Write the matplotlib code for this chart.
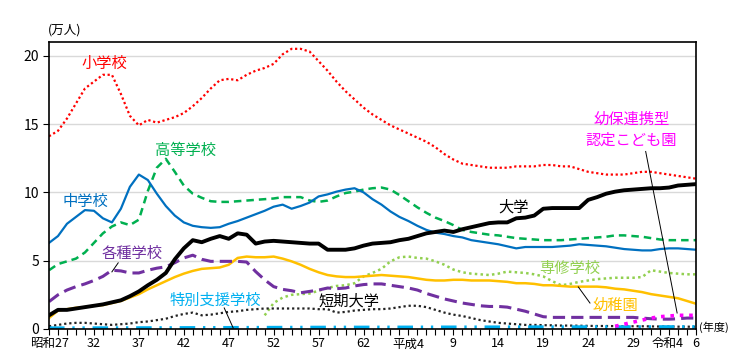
import matplotlib
matplotlib.use("Agg")
import matplotlib.pyplot as plt
from matplotlib.transforms import ScaledTranslation

plt.rcParams["font.family"] = ["Noto Sans CJK JP", "DejaVu Sans"]

# 年度 (1952 = 昭和27 ... 2024 = 令和6)
YEARS = list(range(1952, 2025))

elementary = [14.1, 14.5, 15.4, 16.5, 17.6, 18.1, 18.6, 18.6, 17.2, 15.6,
              14.9, 15.3, 15.1, 15.3, 15.5, 15.8, 16.3, 16.9, 17.6, 18.2,
              18.3, 18.2, 18.6, 18.9, 19.1, 19.4, 20.1, 20.5, 20.5, 20.3,
              19.6, 18.9, 18.1, 17.4, 16.8, 16.2, 15.7, 15.3, 14.9, 14.6,
              14.3, 14.0, 13.7, 13.3, 12.8, 12.4, 12.1, 12.0, 11.9, 11.8,
              11.8, 11.8, 11.9, 11.9, 11.9, 12.0, 12.0, 11.9, 11.9, 11.7,
              11.5, 11.4, 11.3, 11.3, 11.3, 11.4, 11.5, 11.5, 11.4, 11.3,
              11.2, 11.1, 11.0]
junior_high = [6.3, 6.8, 7.7, 8.2, 8.7, 8.65, 8.1, 7.8, 8.8, 10.4,
               11.3, 10.9, 9.9, 9.0, 8.3, 7.8, 7.55, 7.45, 7.4, 7.45,
               7.7, 7.9, 8.15, 8.4, 8.65, 8.95, 9.1, 8.8, 9.0, 9.25,
               9.7, 9.85, 10.05, 10.2, 10.3, 10.0, 9.5, 9.1, 8.6, 8.2,
               7.9, 7.55, 7.25, 7.05, 6.95, 6.8, 6.7, 6.5, 6.4, 6.3,
               6.2, 6.05, 5.9, 6.0, 6.0, 6.0, 6.0, 6.05, 6.1, 6.2,
               6.15, 6.1, 6.05, 5.95, 5.85, 5.8, 5.75, 5.75, 5.85, 5.9,
               5.9, 5.85, 5.8]
high_school = [4.3, 4.75, 4.95, 5.15, 5.6, 6.3, 7.0, 7.5, 7.8, 7.6,
               8.0, 10.1, 11.8, 12.45, 11.5, 10.5, 9.9, 9.6, 9.35, 9.3,
               9.3, 9.35, 9.4, 9.45, 9.5, 9.55, 9.65, 9.65, 9.65, 9.4,
               9.3, 9.4, 9.7, 9.95, 10.05, 10.2, 10.3, 10.35, 10.2, 9.8,
               9.35, 8.9, 8.5, 8.15, 7.9, 7.6, 7.25, 7.1, 7.0, 6.9,
               6.85, 6.75, 6.65, 6.6, 6.55, 6.5, 6.5, 6.5, 6.55, 6.6,
               6.65, 6.7, 6.75, 6.85, 6.85, 6.8, 6.75, 6.65, 6.55, 6.5,
               6.5, 6.5, 6.5]
university = [1.0, 1.4, 1.4, 1.5, 1.6, 1.7, 1.8, 1.95, 2.1, 2.4,
              2.75, 3.2, 3.6, 4.1, 5.1, 5.9, 6.5, 6.35, 6.6, 6.8,
              6.6, 7.0, 6.9, 6.25, 6.4, 6.45, 6.4, 6.35, 6.3, 6.25,
              6.25, 5.8, 5.8, 5.8, 5.9, 6.1, 6.25, 6.3, 6.35, 6.5,
              6.6, 6.8, 7.0, 7.1, 7.2, 7.1, 7.3, 7.45, 7.6, 7.75,
              7.8, 7.8, 8.1, 8.15, 8.3, 8.8, 8.85, 8.85, 8.85, 8.85,
              9.45, 9.65, 9.9, 10.05, 10.15, 10.2, 10.25, 10.3, 10.3, 10.35,
              10.5, 10.55, 10.6]
kindergarten = [0.8, 1.35, 1.45, 1.55, 1.6, 1.7, 1.75, 1.9, 2.05, 2.3,
                2.55, 2.9, 3.2, 3.5, 3.8, 4.05, 4.25, 4.4, 4.45, 4.5,
                4.7, 5.2, 5.3, 5.25, 5.25, 5.3, 5.15, 4.95, 4.7, 4.4,
                4.15, 3.95, 3.85, 3.8, 3.8, 3.85, 3.9, 3.95, 3.9, 3.85,
                3.8, 3.7, 3.6, 3.55, 3.55, 3.6, 3.6, 3.55, 3.55, 3.55,
                3.5, 3.45, 3.35, 3.35, 3.3, 3.2, 3.2, 3.15, 3.1, 3.1,
                3.1, 3.1, 3.05, 2.95, 2.9, 2.8, 2.7, 2.55, 2.45, 2.35,
                2.25, 2.05, 1.85]
misc_school = [2.0, 2.5, 2.85, 3.1, 3.3, 3.55, 3.85, 4.3, 4.25, 4.1,
               4.1, 4.3, 4.45, 4.55, 4.85, 5.2, 5.4, 5.1, 4.95, 4.95,
               4.95, 4.95, 4.9, 4.2, 3.6, 3.1, 2.9, 2.8, 2.65, 2.75,
               2.85, 3.0, 2.95, 3.0, 3.15, 3.25, 3.3, 3.3, 3.2, 3.1,
               3.0, 2.85, 2.6, 2.4, 2.2, 2.05, 1.9, 1.8, 1.7, 1.65,
               1.65, 1.6, 1.45, 1.3, 1.1, 0.9, 0.85, 0.85, 0.85, 0.85,
               0.85, 0.85, 0.85, 0.85, 0.85, 0.85, 0.8, 0.75, 0.72, 0.72,
               0.75, 0.8, 0.8]
junior_college = [0.2, 0.3, 0.4, 0.45, 0.45, 0.4, 0.35, 0.3, 0.35, 0.4,
                  0.5, 0.55, 0.65, 0.75, 0.95, 1.1, 1.2, 1.0, 1.05, 1.15,
                  1.25, 1.3, 1.4, 1.45, 1.5, 1.5, 1.5, 1.5, 1.5, 1.5,
                  1.45, 1.45, 1.2, 1.25, 1.35, 1.4, 1.45, 1.45, 1.5, 1.6,
                  1.7, 1.7, 1.6, 1.4, 1.2, 1.05, 0.95, 0.8, 0.65, 0.55,
                  0.45, 0.4, 0.35, 0.3, 0.3, 0.28, 0.27, 0.25, 0.25, 0.24,
                  0.23, 0.22, 0.22, 0.21, 0.2, 0.2, 0.2, 0.19, 0.18, 0.18,
                  0.17, 0.17, 0.16]

# 専修学校 (昭和51年度から)
SENSHU_YEARS = list(range(1976, 2025))
senshu = [1.0, 1.9, 2.3, 2.5, 2.55, 2.6, 2.8, 3.0, 3.15, 3.2,
          3.35, 3.85, 4.1, 4.4, 4.95, 5.25, 5.3, 5.2, 5.15, 4.95,
          4.7, 4.35, 4.15, 4.05, 4.0, 3.95, 4.05, 4.2, 4.15, 4.1,
          4.0, 3.85, 3.5, 3.2, 3.3, 3.45, 3.55, 3.65, 3.7, 3.75,
          3.75, 3.75, 3.8, 4.3, 4.2, 4.1, 4.05, 4.0, 4.0]

# 特別支援学校
SPECIAL_YEARS = [1952, 1962, 1972, 1982, 1992, 2002, 2012, 2024]
special = [0.05, 0.06, 0.08, 0.1, 0.11, 0.12, 0.13, 0.14]

# 幼保連携型認定こども園 (平成27年度から)
KODOMO_YEARS = list(range(2015, 2025))
kodomo = [0.2, 0.35, 0.5, 0.65, 0.8, 0.9, 0.95, 1.0, 1.0, 1.0]

TICK_YEARS = [1952, 1957, 1962, 1967, 1972, 1977, 1982, 1987, 1992, 1997,
              2002, 2007, 2012, 2017, 2022, 2024]
TICK_LABELS = ["昭和27", "32", "37", "42", "47", "52", "57", "62", "平成4", "9",
               "14", "19", "24", "29", "令和4", "6"]

RED = "#FF0000"
BLUE = "#0070C0"
GREEN = "#00B050"
GOLD = "#FFC000"
PURPLE = "#7030A0"
LIGHTGREEN = "#92D050"
CYAN = "#00B0F0"
MAGENTA = "#FF00FF"

fig = plt.figure(figsize=(7.38, 3.61), dpi=100)
ax = fig.add_axes([49 / 738, 1 - 329 / 361, 647 / 738, 287 / 361])

ax.plot(YEARS, elementary, color=RED, lw=1.6, linestyle=(0, (1, 1.2)))
ax.plot(YEARS, high_school, color=GREEN, lw=1.8, linestyle=(0, (3, 2)))
ax.plot(YEARS, junior_high, color=BLUE, lw=1.6)
ax.plot(SENSHU_YEARS, senshu, color=LIGHTGREEN, lw=1.8, linestyle=(0, (1, 1.3)))
ax.plot(YEARS, kindergarten, color=GOLD, lw=1.8)
ax.plot(YEARS, misc_school, color=PURPLE, lw=2.2, linestyle=(0, (4, 2)))
ax.plot(YEARS, junior_college, color="#222222", lw=1.6, linestyle=(0, (1, 1.3)))
ax.plot(SPECIAL_YEARS, special, color=CYAN, lw=2.8, linestyle=(0, (4, 2, 0.6, 2, 0.6, 2)))
ax.plot(KODOMO_YEARS, kodomo, color=MAGENTA, lw=2.6, linestyle=(0, (1, 1.6)))
ax.plot(YEARS, university, color="black", lw=2.8)

ax.set_xlim(1952, 2024)
ax.set_ylim(0, 21)
ax.set_yticks([0, 5, 10, 15, 20])
ax.yaxis.grid(True, color="#D9D9D9", lw=1)
ax.set_axisbelow(True)
ax.set_xticks(YEARS, minor=True)
ax.set_xticks(TICK_YEARS)
ax.set_xticklabels(TICK_LABELS, fontsize=9)
ax.tick_params(axis="x", which="both", direction="out", length=4, width=0.8, pad=2)
ax.tick_params(axis="y", direction="out", length=4, width=0.8, labelsize=10, pad=3)
for s in ax.spines.values():
    s.set_linewidth(1.2)
    s.set_color("black")

# 令和4 sits a bit to the left so it does not run into "6"
reiwa = ax.get_xticklabels()[TICK_LABELS.index("令和4")]
reiwa.set_ha("right")
reiwa.set_transform(reiwa.get_transform() + ScaledTranslation(6 / 100, 0, fig.dpi_scale_trans))

fs = 11
ax.text(1958.2, 19.44, "小学校", color=RED, fontsize=fs, ha="center", va="center")
ax.text(1967.2, 13.1, "高等学校", color=GREEN, fontsize=fs, ha="center", va="center")
ax.text(1956.1, 9.3, "中学校", color=BLUE, fontsize=fs, ha="center", va="center")
ax.text(1961.2, 5.5, "各種学校", color=PURPLE, fontsize=fs, ha="center", va="center")
ax.text(1970.5, 2.1, "特別支援学校", color=CYAN, fontsize=fs, ha="center", va="center")
ax.text(1985.4, 2.05, "短期大学", color="black", fontsize=fs, ha="center", va="center")
ax.text(2003.7, 8.95, "大学", color="black", fontsize=fs, ha="center", va="center")
ax.text(2009.9, 4.4, "専修学校", color=LIGHTGREEN, fontsize=fs, ha="center", va="center")
ax.text(2015.0, 1.7, "幼稚園", color=GOLD, fontsize=fs, ha="center", va="center")
ax.text(2016.8, 14.6, "幼保連携型\n認定こども園", color=MAGENTA, fontsize=fs,
        ha="center", va="center", linespacing=1.3)

# leader lines
ax.plot([1959.7, 1959.0], [4.84, 4.18], color="black", lw=0.7)
ax.plot([1971.5, 1972.5], [1.54, 0.07], color="black", lw=0.7)
ax.plot([2012.2, 2010.9], [1.9, 3.08], color="black", lw=0.7)
ax.plot([2018.4, 2021.9], [12.99, 1.17], color="black", lw=0.7)

fig.text(48 / 738, 1 - 30 / 361, "(万人)", fontsize=9, va="center", ha="left")
fig.text(699 / 738, 1 - 327 / 361, "(年度)", fontsize=8, va="center", ha="left")

fig.savefig("out.png", dpi=100)
